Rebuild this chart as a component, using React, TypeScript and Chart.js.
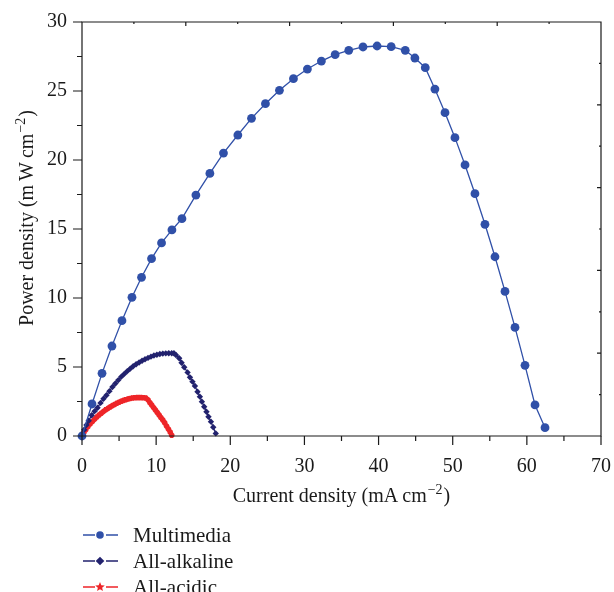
import React, { useEffect, useRef } from "react";
import { Chart, registerables } from "chart.js";

Chart.register(...registerables);

// ---- Data ----
const multimediaX = [0, 1.35, 2.7, 4.04, 5.39, 6.74, 8.03, 9.38, 10.73, 12.13, 13.48, 15.36, 17.25, 19.08, 21.02, 22.86, 24.74, 26.63, 28.52, 30.4, 32.29, 34.14, 35.98, 37.9, 39.8, 41.7, 43.6, 44.9, 46.3, 47.6, 48.96, 50.3, 51.66, 53.0, 54.35, 55.7, 57.05, 58.4, 59.75, 61.1, 62.45];
const multimediaY = [0, 2.32, 4.54, 6.52, 8.36, 10.05, 11.5, 12.85, 13.99, 14.93, 15.75, 17.46, 19.03, 20.5, 21.81, 23.02, 24.08, 25.05, 25.89, 26.59, 27.17, 27.63, 27.95, 28.19, 28.26, 28.21, 27.95, 27.39, 26.69, 25.14, 23.43, 21.62, 19.64, 17.56, 15.34, 12.99, 10.48, 7.87, 5.12, 2.25, 0.6];

const alkalineX = [0, 0.3, 0.6, 0.9, 1.3, 1.7, 2.1, 2.5, 2.9, 3.3, 3.7, 4.1, 4.5, 4.9, 5.3, 5.7, 6.1, 6.5, 6.9, 7.3, 7.7, 8.1, 8.5, 8.9, 9.3, 9.7, 10.1, 10.5, 10.9, 11.3, 11.7, 12.1, 12.4, 12.67, 13.11, 13.43, 13.79, 14.24, 14.56, 14.9, 15.23, 15.58, 15.9, 16.17, 16.48, 16.79, 17.06, 17.39, 17.7, 18.04];
const alkalineY = [0, 0.45, 0.8, 1.1, 1.5, 1.8, 2.05, 2.4, 2.7, 2.95, 3.25, 3.55, 3.8, 4.05, 4.3, 4.5, 4.7, 4.88, 5.05, 5.2, 5.33, 5.45, 5.56, 5.66, 5.75, 5.83, 5.89, 5.94, 5.97, 5.99, 6.0, 6.0, 6.0, 5.87, 5.63, 5.31, 4.98, 4.61, 4.25, 3.94, 3.62, 3.21, 2.85, 2.49, 2.12, 1.76, 1.4, 1.04, 0.63, 0.19];

const acidicX = [0, 0.25, 0.5, 0.8, 1.1, 1.4, 1.7, 2.0, 2.3, 2.6, 2.9, 3.2, 3.5, 3.8, 4.1, 4.4, 4.7, 5.0, 5.3, 5.6, 5.9, 6.2, 6.5, 6.8, 7.1, 7.4, 7.7, 8.0, 8.3, 8.6, 8.9, 9.15, 9.4, 9.65, 9.9, 10.15, 10.4, 10.65, 10.9, 11.15, 11.4, 11.65, 11.9, 12.1];
const acidicY = [0, 0.25, 0.45, 0.68, 0.88, 1.05, 1.22, 1.38, 1.52, 1.65, 1.78, 1.9, 2.0, 2.1, 2.2, 2.28, 2.37, 2.45, 2.52, 2.58, 2.63, 2.68, 2.72, 2.75, 2.77, 2.78, 2.78, 2.78, 2.77, 2.75, 2.62, 2.42, 2.25, 2.06, 1.88, 1.7, 1.52, 1.33, 1.16, 0.96, 0.72, 0.5, 0.28, 0.05];

const seriesNames = ["Multimedia", "All-alkaline", "All-acidic"];
const xTitleParts = ["Current density (mA\u2009cm", "\u22122", ")"];
const yTitleParts = ["Power density (m\u2009W\u2009cm", "\u22122", ")"];
const xRange = [0, 70];
const yRange = [0, 30];

const FONT = "'Liberation Serif', 'DejaVu Serif', serif";
const TXT = "#1a1a1a";
const COL_MM = "#3050a8";
const COL_AK = "#22226e";
const COL_AC = "#ee2528";

const toPts = (xs: number[], ys: number[]) => xs.map((x, i) => ({ x, y: ys[i] }));

function drawSupTitle(ctx: CanvasRenderingContext2D, parts: string[], cx: number, cy: number, rotate: boolean) {
  ctx.save();
  ctx.translate(cx, cy);
  if (rotate) ctx.rotate(-Math.PI / 2);
  const big = `20px ${FONT}`;
  const small = `14px ${FONT}`;
  ctx.font = big;
  const w0 = ctx.measureText(parts[0]).width;
  const w2 = ctx.measureText(parts[2]).width;
  ctx.font = small;
  const w1 = ctx.measureText(parts[1]).width + 2;
  const total = w0 + w1 + w2;
  let x = -total / 2;
  ctx.fillStyle = TXT;
  ctx.textBaseline = "alphabetic";
  ctx.textAlign = "left";
  ctx.font = big;
  ctx.fillText(parts[0], x, 6);
  x += w0;
  ctx.font = small;
  ctx.fillText(parts[1], x + 1, -2);
  x += w1;
  ctx.font = big;
  ctx.fillText(parts[2], x, 6);
  ctx.restore();
}

function drawMarker(ctx: CanvasRenderingContext2D, style: string, x: number, y: number, r: number) {
  ctx.beginPath();
  if (style === "circle") {
    ctx.arc(x, y, r, 0, Math.PI * 2);
  } else if (style === "rectRot") {
    ctx.moveTo(x, y - r);
    ctx.lineTo(x + r, y);
    ctx.lineTo(x, y + r);
    ctx.lineTo(x - r, y);
    ctx.closePath();
  } else {
    for (let i = 0; i < 10; i++) {
      const a = -Math.PI / 2 + (i * Math.PI) / 5;
      const rr = i % 2 === 0 ? r : r * 0.45;
      const px = x + rr * Math.cos(a);
      const py = y + rr * Math.sin(a);
      if (i === 0) ctx.moveTo(px, py);
      else ctx.lineTo(px, py);
    }
    ctx.closePath();
  }
  ctx.fill();
}

const framePlugin = {
  id: "frame",
  afterDraw(chart: any) {
    const ctx = chart.ctx;
    const { left, right, top, bottom } = chart.chartArea;
    const xs = chart.scales.x;
    const ys = chart.scales.y;
    ctx.save();
    ctx.strokeStyle = TXT;
    ctx.lineWidth = 1.2;
    ctx.beginPath();
    ctx.rect(left, top, right - left, bottom - top);
    ctx.stroke();
    ctx.beginPath();
    for (let v = xRange[0]; v <= xRange[1] + 1e-6; v += 5) {
      const px = xs.getPixelForValue(v);
      const len = v % 10 === 0 ? 9 : 5;
      ctx.moveTo(px, bottom);
      ctx.lineTo(px, bottom + len);
    }
    for (let v = yRange[0]; v <= yRange[1] + 1e-6; v += 2.5) {
      const py = ys.getPixelForValue(v);
      const len = v % 5 === 0 ? 9 : 5;
      ctx.moveTo(left, py);
      ctx.lineTo(left - len, py);
    }
    for (let k = 1; k < 10; k++) {
      const px = xs.getPixelForValue(k * 7);
      const len = k % 2 === 0 ? 4 : 2;
      ctx.moveTo(px, top);
      ctx.lineTo(px, top + len);
    }
    for (let k = 1; k < 10; k++) {
      const py = ys.getPixelForValue(k * 3);
      const len = k % 2 === 0 ? 4 : 2;
      ctx.moveTo(right, py);
      ctx.lineTo(right - len, py);
    }
    ctx.stroke();

    // axis titles
    drawSupTitle(ctx, xTitleParts, (left + right) / 2, 496, false);
    drawSupTitle(ctx, yTitleParts, 27, 218, true);

    // legend
    const rows = [
      { name: seriesNames[0], color: COL_MM, style: "circle", r: 3.8, y: 535 },
      { name: seriesNames[1], color: COL_AK, style: "rectRot", r: 4.3, y: 561 },
      { name: seriesNames[2], color: COL_AC, style: "star", r: 5, y: 587 },
    ];
    rows.forEach((row) => {
      ctx.strokeStyle = row.color;
      ctx.lineWidth = 1.3;
      ctx.beginPath();
      ctx.moveTo(83, row.y);
      ctx.lineTo(95, row.y);
      ctx.moveTo(106, row.y);
      ctx.lineTo(118, row.y);
      ctx.stroke();
      ctx.fillStyle = row.color;
      drawMarker(ctx, row.style, 100, row.y, row.r);
      ctx.fillStyle = TXT;
      ctx.font = `21px ${FONT}`;
      ctx.textBaseline = "middle";
      ctx.textAlign = "left";
      ctx.fillText(row.name, 133, row.y + 1);
    });
    ctx.restore();
  },
};

export default function App() {
  const ref = useRef<HTMLCanvasElement | null>(null);
  useEffect(() => {
    document.body.style.margin = "0";
    const canvas = ref.current;
    if (!canvas) return;
    const chart = new Chart(canvas, {
      type: "scatter",
      data: {
        datasets: [
          {
            label: seriesNames[0],
            data: toPts(multimediaX, multimediaY),
            showLine: true,
            borderColor: COL_MM,
            backgroundColor: COL_MM,
            borderWidth: 1.3,
            pointStyle: "circle",
            pointRadius: 4.4,
            pointBorderWidth: 0,
            clip: false,
          },
          {
            label: seriesNames[1],
            data: toPts(alkalineX, alkalineY),
            showLine: true,
            borderColor: COL_AK,
            backgroundColor: COL_AK,
            borderWidth: 1.3,
            pointStyle: "rectRot",
            pointRadius: 3.2,
            pointBorderWidth: 0,
            clip: false,
          },
          {
            label: seriesNames[2],
            data: toPts(acidicX, acidicY),
            showLine: true,
            borderColor: COL_AC,
            backgroundColor: COL_AC,
            borderWidth: 1.3,
            pointStyle: "star",
            pointRadius: 2.8,
            pointBorderWidth: 2,
            pointBorderColor: COL_AC,
            clip: false,
          },
        ],
      },
      options: {
        animation: false,
        responsive: false,
        maintainAspectRatio: false,
        layout: { padding: { left: 0, right: 13, top: 22, bottom: 76 } },
        plugins: { legend: { display: false }, tooltip: { enabled: false } },
        scales: {
          x: {
            type: "linear",
            min: xRange[0],
            max: xRange[1],
            afterFit: (s: any) => {
              s.height = 80;
              s.paddingLeft = 0;
              s.paddingRight = 0;
            },
            ticks: {
              stepSize: 10,
              padding: 19,
              color: TXT,
              font: { family: FONT, size: 20 },
              maxRotation: 0,
            },
            grid: { display: false, drawTicks: false },
            border: { display: false },
            title: { display: false },
          },
          y: {
            type: "linear",
            min: yRange[0],
            max: yRange[1],
            afterFit: (s: any) => {
              s.width = 82;
              s.paddingTop = 0;
              s.paddingBottom = 0;
            },
            ticks: {
              stepSize: 5,
              padding: 15,
              color: TXT,
              font: { family: FONT, size: 20 },
            },
            grid: { display: false, drawTicks: false },
            border: { display: false },
            title: { display: false },
          },
        },
      },
      plugins: [framePlugin],
    } as any);
    return () => chart.destroy();
  }, []);
  return (
    <div style={{ width: 614, height: 592, position: "relative", background: "#fff" }}>
      <canvas ref={ref} width={614} height={592} style={{ display: "block" }} />
    </div>
  );
}
